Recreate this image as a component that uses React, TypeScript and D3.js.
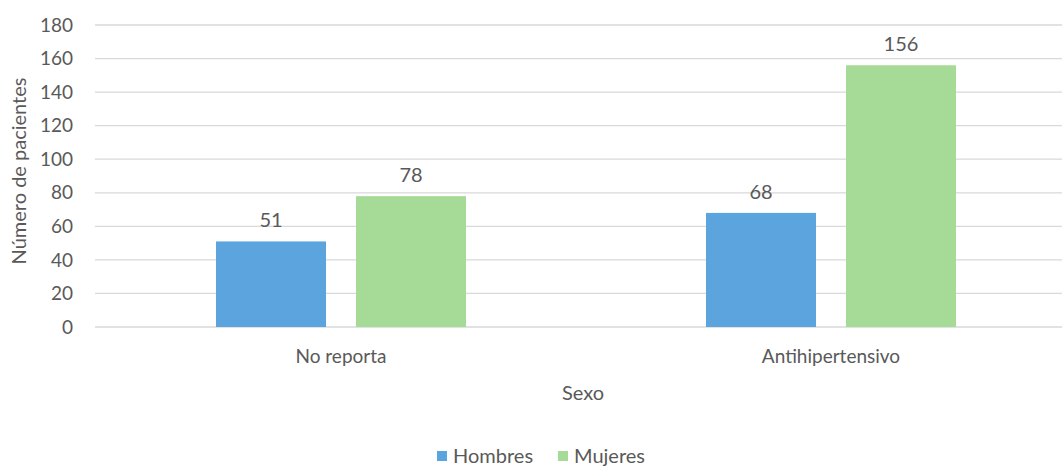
import React from "react";
import * as d3 from "d3";

const categories = ["No reporta", "Antihipertensivo"];
const seriesNames = ["Hombres", "Mujeres"];
const hombres = [51, 68];
const mujeres = [78, 156];
const yTicks = [0, 20, 40, 60, 80, 100, 120, 140, 160, 180];

const colors = ["#5BA4DE", "#A6DB97"];
const textColor = "#595959";
const font = "Lato, 'Open Sans', sans-serif";

export default function App() {
  const W = 1062, H = 466;
  const x = d3.scaleBand().domain(categories).range([96, 1076]).paddingInner(0).paddingOuter(0);
  const y = d3.scaleLinear().domain([0, 180]).range([327, 25]);
  const inner = d3.scaleBand().domain(seriesNames).range([120, x.bandwidth() - 120]).paddingInner(30 / 140).paddingOuter(0);
  const values = [hombres, mujeres];
  return (
    <svg width={W} height={H} style={{ position: "absolute", left: 0, top: 0, background: "#fff" }} fontFamily={font}>
      {yTicks.map((t) => (
        <g key={t}>
          <line x1={95} x2={W} y1={y(t)} y2={y(t)} stroke="#D9D9D9" strokeWidth={1.3} />
          <text x={73} y={y(t)} dy="0.35em" textAnchor="end" fontSize={19} fill={textColor}>{t}</text>
        </g>
      ))}
      {categories.map((c, ci) => (
        <g key={c}>
          {seriesNames.map((s, si) => {
            const bx = (x(c) as number) + (inner(s) as number);
            const v = values[si][ci];
            return (
              <g key={s}>
                <rect x={bx} y={y(v)} width={inner.bandwidth()} height={y(0) - y(v)} fill={colors[si]} />
                <text x={bx + inner.bandwidth() / 2} y={y(v) - 14} textAnchor="middle" fontSize={20} fill={textColor}>{v}</text>
              </g>
            );
          })}
          <text x={(x(c) as number) + x.bandwidth() / 2} y={363} textAnchor="middle" fontSize={19} fill={textColor}>{c}</text>
        </g>
      ))}
      <text x={583} y={400} textAnchor="middle" fontSize={20} fill={textColor}>Sexo</text>
      <text transform={`translate(26,${171}) rotate(-90)`} textAnchor="middle" fontSize={20} fill={textColor}>Número de pacientes</text>
      {seriesNames.map((s, i) => {
        const lx = [437, 558][i];
        return (
          <g key={s}>
            <rect x={lx} y={451} width={10} height={10} fill={colors[i]} />
            <text x={lx + 16} y={463} fontSize={20} fill={textColor}>{s}</text>
          </g>
        );
      })}
    </svg>
  );
}
